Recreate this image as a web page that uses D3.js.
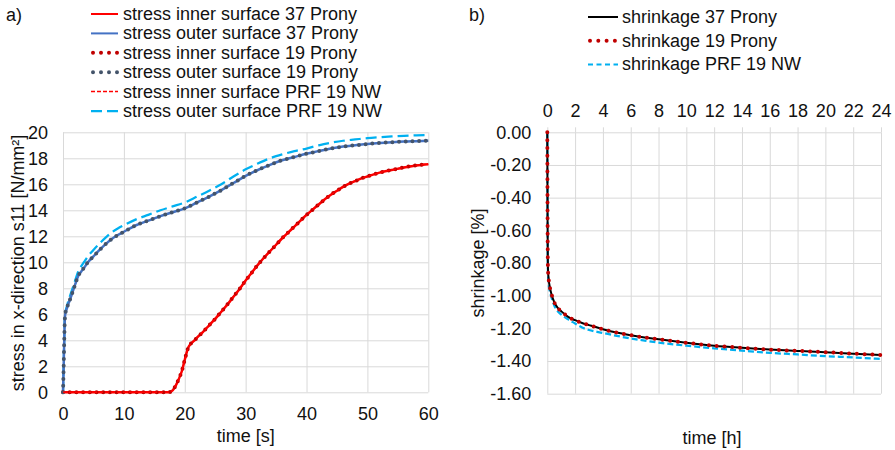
<!DOCTYPE html>
<html lang="en">
<head>
<meta charset="utf-8">
<title>Stress and shrinkage</title>
<script src="https://d3js.org/d3.v7.min.js"></script>
<style>
  body { margin: 0; background: #fff; }
  svg text { font-family: "Liberation Sans", Arial, sans-serif; font-size: 18px; fill: #111; }
  .grid line { stroke: #d9d9d9; stroke-width: 1; }
  .grid .domain { display: none; }
  .lbl .domain, .lbl line { display: none; }
  .ticks .domain { display: none; }
  .ticks line { stroke: #d9d9d9; }
</style>
</head>
<body>
<script>
// ---- data: a) stress ----
const outerTime = [0, 0.1, 0.2, 0.3, 0.4, 0.6, 0.8, 1, 1.5, 2, 2.5, 3, 3.5, 4, 5, 6, 7, 8, 9, 10,
  12, 14, 16, 18, 20, 22, 24, 26, 28, 30, 32, 34, 36, 38, 40, 42, 44, 46, 48, 50, 52, 54, 56, 58, 60];
const outer37 = [0, 1.8, 3.9, 5.6, 6.1, 6.4, 6.7, 6.95, 7.6, 8.3, 8.95, 9.3, 9.6, 9.95, 10.45, 10.95, 11.4, 11.8, 12.1, 12.35,
  12.85, 13.2, 13.55, 13.85, 14.15, 14.6, 15.05, 15.55, 16.1, 16.65, 17.1, 17.5, 17.85, 18.1, 18.35, 18.55, 18.75, 18.9, 19.0, 19.1, 19.18, 19.24, 19.29, 19.32, 19.35];
const outer19 = [0, 1.8, 3.9, 5.6, 6.1, 6.4, 6.7, 6.95, 7.6, 8.3, 8.95, 9.3, 9.6, 9.95, 10.45, 10.95, 11.4, 11.8, 12.1, 12.35,
  12.85, 13.2, 13.55, 13.85, 14.15, 14.6, 15.05, 15.55, 16.1, 16.65, 17.1, 17.5, 17.85, 18.1, 18.35, 18.55, 18.75, 18.9, 19.0, 19.1, 19.18, 19.24, 19.29, 19.32, 19.35];
const outerPRF = [0, 1.9, 4.0, 5.7, 6.2, 6.55, 6.9, 7.2, 7.9, 8.6, 9.3, 9.7, 10.05, 10.4, 10.95, 11.45, 11.9, 12.3, 12.6, 12.85,
  13.3, 13.65, 14.0, 14.3, 14.6, 15.05, 15.5, 16.0, 16.6, 17.15, 17.6, 18.0, 18.3, 18.55, 18.75, 19.0, 19.2, 19.35, 19.45, 19.55, 19.62, 19.68, 19.73, 19.77, 19.8];

const innerTime = [0, 5, 10, 15, 17, 17.5, 18, 18.5, 19, 19.5, 20, 20.5, 21, 21.5, 22, 23, 24, 25, 26, 27, 28, 29, 30,
  31, 32, 33, 34, 35, 36, 37, 38, 39, 40, 41, 42, 43, 44, 45, 46, 47, 48, 49, 50, 52, 54, 56, 58, 60];
const inner37 = [0, 0, 0, 0, 0, 0.02, 0.15, 0.5, 1.0, 1.6, 2.5, 3.35, 3.75, 3.95, 4.2, 4.65, 5.15, 5.65, 6.2, 6.75, 7.35, 7.95, 8.6,
  9.2, 9.8, 10.35, 10.85, 11.35, 11.85, 12.3, 12.75, 13.2, 13.65, 14.05, 14.45, 14.85, 15.2, 15.5, 15.8, 16.05, 16.25, 16.45, 16.6, 16.9, 17.1, 17.3, 17.45, 17.55];
const inner19 = [0, 0, 0, 0, 0, 0.02, 0.15, 0.5, 1.0, 1.6, 2.5, 3.35, 3.75, 3.95, 4.2, 4.65, 5.15, 5.65, 6.2, 6.75, 7.35, 7.95, 8.6,
  9.2, 9.8, 10.35, 10.85, 11.35, 11.85, 12.3, 12.75, 13.2, 13.65, 14.05, 14.45, 14.85, 15.2, 15.5, 15.8, 16.05, 16.25, 16.45, 16.6, 16.9, 17.1, 17.3, 17.45, 17.55];
const innerPRF = [0, 0, 0, 0, 0, 0.02, 0.15, 0.5, 1.0, 1.6, 2.5, 3.35, 3.75, 3.95, 4.2, 4.65, 5.15, 5.65, 6.2, 6.75, 7.35, 7.95, 8.6,
  9.2, 9.8, 10.35, 10.85, 11.35, 11.85, 12.3, 12.75, 13.2, 13.65, 14.05, 14.45, 14.85, 15.2, 15.5, 15.8, 16.05, 16.25, 16.45, 16.6, 16.9, 17.1, 17.3, 17.45, 17.55];

// ---- data: b) shrinkage ----
const shrinkTime = [0, 0.01, 0.02, 0.03, 0.05, 0.1, 0.2, 0.3, 0.5, 0.75, 1, 1.5, 2, 2.5, 3, 4, 5, 6, 7, 8, 10, 12, 14, 16, 18, 20, 22, 24];
const shrink37 = [0, -0.3, -0.55, -0.72, -0.84, -0.9, -0.955, -0.99, -1.04, -1.075, -1.095, -1.13, -1.15, -1.167, -1.18, -1.205, -1.226,
  -1.242, -1.256, -1.267, -1.288, -1.306, -1.319, -1.33, -1.338, -1.346, -1.355, -1.363];
const shrink19 = [0, -0.3, -0.55, -0.72, -0.84, -0.9, -0.955, -0.99, -1.04, -1.075, -1.095, -1.13, -1.15, -1.167, -1.18, -1.205, -1.226,
  -1.242, -1.256, -1.267, -1.288, -1.306, -1.319, -1.33, -1.338, -1.346, -1.355, -1.363];
const shrinkPRF = [0, -0.3, -0.56, -0.74, -0.86, -0.93, -0.98, -1.01, -1.06, -1.095, -1.115, -1.145, -1.17, -1.195, -1.21, -1.228, -1.246,
  -1.262, -1.275, -1.287, -1.306, -1.322, -1.336, -1.35, -1.36, -1.37, -1.378, -1.387];

const stressTicksX = [0, 10, 20, 30, 40, 50, 60];
const stressTicksY = [0, 2, 4, 6, 8, 10, 12, 14, 16, 18, 20];
const shrinkTicksX = [0, 2, 4, 6, 8, 10, 12, 14, 16, 18, 20, 22, 24];
const shrinkTicksY = [0, -0.2, -0.4, -0.6, -0.8, -1.0, -1.2, -1.4, -1.6];

const W = 895, H = 450;
const svg = d3.select("body").append("svg").attr("width", W).attr("height", H);

// ================= a) =================
const xa = d3.scaleLinear().domain([0, 60]).range([63, 428.3]);
const ya = d3.scaleLinear().domain([0, 20]).range([392.3, 132.3]);

svg.append("g").attr("class", "grid")
  .attr("transform", "translate(0," + ya(0) + ")")
  .call(d3.axisBottom(xa).tickValues(stressTicksX).tickSize(-(ya(0) - ya(20))).tickFormat(""));
svg.append("g").attr("class", "grid")
  .attr("transform", "translate(" + xa(0) + ",0)")
  .call(d3.axisLeft(ya).tickValues(stressTicksY).tickSize(-(xa(60) - xa(0))).tickFormat(""));

svg.append("g").attr("class", "lbl")
  .attr("transform", "translate(0," + ya(0) + ")")
  .call(d3.axisBottom(xa).tickValues(stressTicksX).tickSize(0).tickPadding(15));
svg.append("g").attr("class", "lbl")
  .attr("transform", "translate(" + xa(0) + ",0)")
  .call(d3.axisLeft(ya).tickValues(stressTicksY).tickSize(0).tickPadding(15));

const lineA = (tt, vv) => d3.line().curve(d3.curveMonotoneX)
  .x((d, i) => xa(tt[i])).y(d => ya(d))(vv);

const stressSeries = [
  { t: outerTime, v: outerPRF, color: "#00b0f0", w: 2.25, dash: "11 5", cap: "butt" },
  { t: innerTime, v: inner37, color: "#ff0000", w: 2.5, dash: null, cap: "butt" },
  { t: outerTime, v: outer37, color: "#4472c4", w: 2.5, dash: null, cap: "butt" },
  { t: innerTime, v: inner19, color: "#c00000", w: 4, dash: "0 6.7", cap: "round" },
  { t: outerTime, v: outer19, color: "#44546a", w: 4, dash: "0 6.7", cap: "round" },
  { t: innerTime, v: innerPRF, color: "#ff0000", w: 1.5, dash: "4 2", cap: "butt" }
];
stressSeries.forEach(s => {
  svg.append("path").attr("d", lineA(s.t, s.v))
    .attr("fill", "none").attr("stroke", s.color).attr("stroke-width", s.w)
    .attr("stroke-dasharray", s.dash).attr("stroke-linecap", s.cap);
});

svg.append("text").attr("x", xa(30)).attr("y", 442).attr("text-anchor", "middle").text("time [s]");
svg.append("text").attr("transform", "translate(17.5,263) rotate(-90)")
  .attr("text-anchor", "middle").attr("dy", "0.35em").text("stress in x-direction s11 [N/mm²]");
svg.append("text").attr("x", 6).attr("y", 21).text("a)");

// legend a)
const legA = [
  { name: "stress inner surface 37 Prony", color: "#ff0000", w: 2, dash: null, cap: "butt" },
  { name: "stress outer surface 37 Prony", color: "#4472c4", w: 2, dash: null, cap: "butt" },
  { name: "stress inner surface 19 Prony", color: "#c00000", w: 4, dash: "0 8", cap: "round" },
  { name: "stress outer surface 19 Prony", color: "#44546a", w: 4, dash: "0 8", cap: "round" },
  { name: "stress inner surface PRF 19 NW", color: "#ff0000", w: 1.5, dash: "4 2", cap: "butt" },
  { name: "stress outer surface PRF 19 NW", color: "#00b0f0", w: 2.25, dash: "11 5", cap: "butt" }
];
legA.forEach((d, i) => {
  const yb = 20 + i * 19.4;
  const x1 = d.cap === "round" ? 93 : 91;
  svg.append("line").attr("x1", x1).attr("x2", 118).attr("y1", yb - 6).attr("y2", yb - 6)
    .attr("stroke", d.color).attr("stroke-width", d.w)
    .attr("stroke-dasharray", d.dash).attr("stroke-linecap", d.cap);
  svg.append("text").attr("x", 123).attr("y", yb).text(d.name);
});

// ================= b) =================
const xb = d3.scaleLinear().domain([0, 24]).range([547.3, 881]);
const yb = d3.scaleLinear().domain([0, -1.6]).range([132.3, 393.7]);

svg.append("g").attr("class", "grid")
  .attr("transform", "translate(0," + yb(0) + ")")
  .call(d3.axisBottom(xb).tickValues(shrinkTicksX).tickSize(yb(-1.6) - yb(0)).tickFormat(""));
svg.append("g").attr("class", "grid")
  .attr("transform", "translate(" + xb(0) + ",0)")
  .call(d3.axisLeft(yb).tickValues(shrinkTicksY).tickSize(-(xb(24) - xb(0))).tickFormat(""));

svg.append("g").attr("class", "ticks")
  .attr("transform", "translate(0," + yb(0) + ")")
  .call(d3.axisTop(xb).tickValues(shrinkTicksX).tickSize(5).tickPadding(10));
svg.append("g").attr("class", "lbl")
  .attr("transform", "translate(" + xb(0) + ",0)")
  .call(d3.axisLeft(yb).tickValues(shrinkTicksY).tickSize(0).tickPadding(16)
    .tickFormat(d => d.toFixed(2)));

const lineB = (tt, vv) => d3.line().curve(d3.curveMonotoneX)
  .x((d, i) => xb(tt[i])).y(d => yb(d))(vv);

const shrinkSeries = [
  { v: shrinkPRF, color: "#00b0f0", w: 2.25, dash: "6 3", cap: "butt" },
  { v: shrink37, color: "#000000", w: 2, dash: null, cap: "butt" },
  { v: shrink19, color: "#c00000", w: 4, dash: "0 7.8", cap: "round" }
];
shrinkSeries.forEach(s => {
  svg.append("path").attr("d", lineB(shrinkTime, s.v))
    .attr("fill", "none").attr("stroke", s.color).attr("stroke-width", s.w)
    .attr("stroke-dasharray", s.dash).attr("stroke-linecap", s.cap);
});

svg.append("text").attr("x", 712).attr("y", 444).attr("text-anchor", "middle").text("time [h]");
svg.append("text").attr("transform", "translate(478,263) rotate(-90)")
  .attr("text-anchor", "middle").attr("dy", "0.35em").text("shrinkage [%]");
svg.append("text").attr("x", 469).attr("y", 21).text("b)");

const legB = [
  { name: "shrinkage 37 Prony", color: "#000000", w: 2, dash: null, cap: "butt" },
  { name: "shrinkage 19 Prony", color: "#c00000", w: 4, dash: "0 8.3", cap: "round" },
  { name: "shrinkage PRF 19 NW", color: "#00b0f0", w: 2, dash: "5 3.5", cap: "butt" }
];
legB.forEach((d, i) => {
  const yy = 23 + i * 23.7;
  const x1 = d.cap === "round" ? 590 : 588;
  svg.append("line").attr("x1", x1).attr("x2", 618).attr("y1", yy - 6).attr("y2", yy - 6)
    .attr("stroke", d.color).attr("stroke-width", d.w)
    .attr("stroke-dasharray", d.dash).attr("stroke-linecap", d.cap);
  svg.append("text").attr("x", 622).attr("y", yy).text(d.name);
});
</script>
</body>
</html>
